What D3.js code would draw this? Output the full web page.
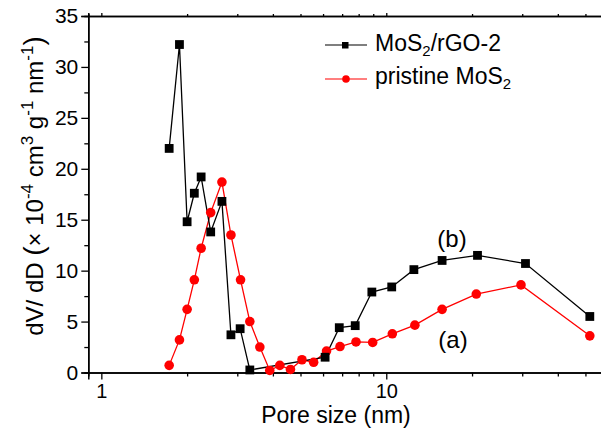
<!DOCTYPE html>
<html>
<head>
<meta charset="utf-8">
<script src="https://cdn.jsdelivr.net/npm/d3@7"></script>
<style>
  body { margin: 0; background: #fff; }
  svg text { font-family: "Liberation Sans", Arial, sans-serif; }
</style>
</head>
<body>
<div id="chart"></div>
<script>
// pore size (nm) and dV/dD values
var rgoSize  = [1.73, 1.88, 2.0, 2.12, 2.24, 2.42, 2.65, 2.85, 3.07, 3.32, 6.1, 6.84, 7.78, 8.9, 10.45, 12.5, 15.7, 20.9, 30.8, 51.8];
var rgoValue = [22.0, 32.2, 14.8, 17.6, 19.2, 13.8, 16.8, 3.7, 4.3, 0.25, 1.5, 4.4, 4.6, 7.9, 8.4, 10.1, 11.0, 11.5, 10.7, 5.5];

var mosSize  = [1.73, 1.88, 2.0, 2.12, 2.24, 2.42, 2.65, 2.85, 3.08, 3.32, 3.6, 3.9, 4.23, 4.61, 5.06, 5.56, 6.17, 6.88, 7.83, 8.96, 10.5, 12.6, 15.7, 20.7, 29.7, 51.8];
var mosValue = [0.7, 3.2, 6.2, 9.1, 12.2, 15.7, 18.7, 13.5, 9.1, 5.0, 2.5, 0.2, 0.7, 0.3, 1.25, 1.0, 2.1, 2.55, 3.0, 2.95, 3.8, 4.65, 6.2, 7.7, 8.6, 3.6];

var xMajor = [1, 10];
var xMinor = [2, 3, 4, 5, 6, 7, 8, 9, 20, 30, 40, 50, 60];
var yMajor = [0, 5, 10, 15, 20, 25, 30, 35];
var yMinor = [2.5, 7.5, 12.5, 17.5, 22.5, 27.5, 32.5];

var width = 601, height = 433;

var svg = d3.select("#chart").append("svg")
    .attr("width", width)
    .attr("height", height);

var x = d3.scaleLog().domain([0.9, 60]).range([88.3, 608]);
var y = d3.scaleLinear().domain([0, 35]).range([372.5, 16]);

var rgo = rgoSize.map(function(d, i) { return [d, rgoValue[i]]; });
var mos = mosSize.map(function(d, i) { return [d, mosValue[i]]; });

// axes
var gx = svg.append("g").attr("transform", "translate(0," + y(0) + ")");
gx.call(d3.axisBottom(x).tickValues(xMajor).tickSize(7).tickPadding(4).tickFormat(d3.format("d")));
gx.append("g").call(d3.axisBottom(x).tickValues(xMinor).tickSize(4).tickFormat(""));

var gt = svg.append("g").attr("transform", "translate(0," + y(35) + ")");
gt.call(d3.axisTop(x).tickValues(xMajor).tickSize(3).tickFormat(""));
gt.append("g").call(d3.axisTop(x).tickValues(xMinor).tickSize(2).tickFormat(""));

var gy = svg.append("g").attr("transform", "translate(" + x(0.9) + ",0)");
gy.call(d3.axisLeft(y).tickValues(yMajor).tickSize(7).tickPadding(3));
gy.append("g").call(d3.axisLeft(y).tickValues(yMinor).tickSize(4).tickFormat(""));

svg.selectAll(".domain").attr("stroke", "#000").attr("stroke-width", 1.5);
svg.selectAll(".tick line").attr("stroke", "#000").attr("stroke-width", 1.3);
svg.selectAll(".tick text").attr("font-size", 20).attr("fill", "#000")
   .attr("font-family", "Liberation Sans, Arial, sans-serif");
gy.selectAll(".tick text").attr("font-size", 21);

// lines
var line = d3.line()
    .x(function(d) { return x(d[0]); })
    .y(function(d) { return y(d[1]); });

svg.append("path").datum(mos).attr("d", line)
   .attr("fill", "none").attr("stroke", "#ff0000").attr("stroke-width", 1.3);
svg.append("path").datum(rgo).attr("d", line)
   .attr("fill", "none").attr("stroke", "#000").attr("stroke-width", 1.3);

svg.selectAll(".mos").data(mos).enter().append("circle")
   .attr("cx", function(d) { return x(d[0]); })
   .attr("cy", function(d) { return y(d[1]); })
   .attr("r", 4.8)
   .attr("fill", "#ff0000");

svg.selectAll(".rgo").data(rgo).enter().append("rect")
   .attr("x", function(d) { return x(d[0]) - 4.4; })
   .attr("y", function(d) { return y(d[1]) - 4.4; })
   .attr("width", 8.8).attr("height", 8.8)
   .attr("fill", "#000");

// legend
var lg = svg.append("g");
lg.append("line").attr("x1", 325).attr("x2", 367).attr("y1", 45).attr("y2", 45)
  .attr("stroke", "#000").attr("stroke-width", 1.2);
lg.append("rect").attr("x", 342).attr("y", 42).attr("width", 6.5).attr("height", 6.5).attr("fill", "#000");
lg.append("line").attr("x1", 325).attr("x2", 367).attr("y1", 79).attr("y2", 79)
  .attr("stroke", "#ff0000").attr("stroke-width", 1.2);
lg.append("circle").attr("cx", 346).attr("cy", 79).attr("r", 3.8).attr("fill", "#ff0000");

var t1 = lg.append("text").attr("x", 375).attr("y", 51).attr("font-size", 23);
t1.append("tspan").text("MoS");
t1.append("tspan").attr("font-size", 15).attr("dy", 5).text("2");
t1.append("tspan").attr("dy", -5).text("/rGO-2");

var t2 = lg.append("text").attr("x", 375).attr("y", 84).attr("font-size", 23);
t2.append("tspan").text("pristine MoS");
t2.append("tspan").attr("font-size", 15).attr("dy", 5).text("2");

// annotations
svg.append("text").attr("x", 452).attr("y", 247).attr("text-anchor", "middle")
   .attr("font-size", 24).text("(b)");
svg.append("text").attr("x", 453).attr("y", 348).attr("text-anchor", "middle")
   .attr("font-size", 24).text("(a)");

// axis titles
svg.append("text").attr("x", 336).attr("y", 423).attr("text-anchor", "middle")
   .attr("font-size", 23).text("Pore size (nm)");

var yt = svg.append("text")
   .attr("transform", "translate(43,186) rotate(-90)")
   .attr("text-anchor", "middle")
   .attr("font-size", 24);
yt.append("tspan").text("dV/ dD ");
yt.append("tspan").attr("font-size", 28).text("(");
yt.append("tspan").text("\u00d7 10");
yt.append("tspan").attr("font-size", 17).attr("dy", -10).text("-4");
yt.append("tspan").attr("dy", 10).text(" cm");
yt.append("tspan").attr("font-size", 17).attr("dy", -10).text("3");
yt.append("tspan").attr("dy", 10).text(" g");
yt.append("tspan").attr("font-size", 17).attr("dy", -10).text("-1");
yt.append("tspan").attr("dy", 10).text(" nm");
yt.append("tspan").attr("font-size", 17).attr("dy", -10).text("-1");
yt.append("tspan").attr("dy", 10).attr("font-size", 28).text(")");
</script>
</body>
</html>
